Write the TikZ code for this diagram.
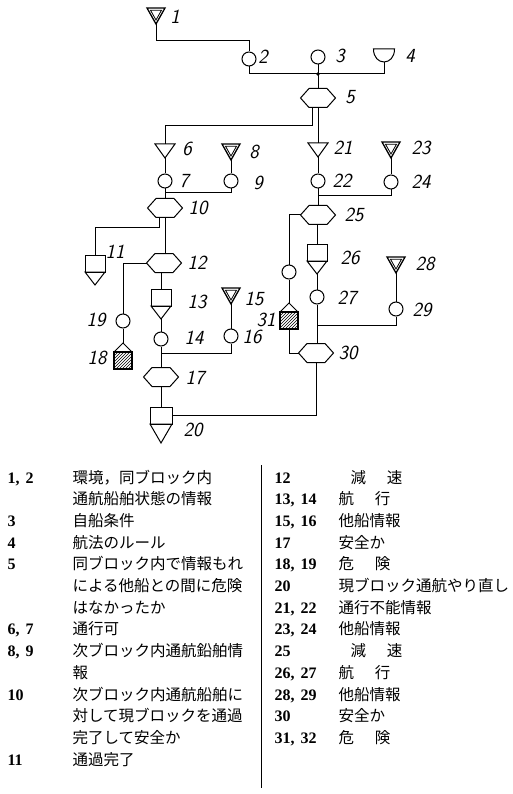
\documentclass[tikz,border=0pt]{standalone}
\usepackage{fontspec}
\newfontfamily\cjk{Noto Sans CJK JP}
\newfontfamily\numfont{Liberation Serif}
\usetikzlibrary{patterns,calc}
\tikzset{
  ln/.style={line width=1pt},
  circ/.style={circle,draw,line width=1pt,minimum size=14pt,inner sep=0pt},
  lab/.style={font=\sffamily\itshape\fontsize{20}{20}\selectfont,inner sep=0pt},
  num/.style={font=\numfont\bfseries\fontsize{16}{16}\selectfont,inner sep=0pt,anchor=base west},
  txt/.style={font=\cjk\fontsize{15.5}{15.5}\selectfont,inner sep=0pt,anchor=base west},
  ant/.pic={
    \draw[line width=1.3pt] (-9,-8) -- (9,-8) -- (0,8) -- cycle;
    \draw[line width=0.8pt] (-5.5,-5.8) -- (5.5,-5.8) -- (0,4) -- cycle;
    \coordinate (-top) at (0,-8); \coordinate (-bot) at (0,8);},
  tri/.pic={
    \draw[line width=1pt] (-10,-7) -- (10,-7) -- (0,7) -- cycle;
    \coordinate (-top) at (0,-7); \coordinate (-bot) at (0,7);},
  bowl/.pic={
    \draw[line width=1pt] (-10.5,-6.5) -- (10.5,-6.5) .. controls (10.5,10.8) and (-10.5,10.8) .. cycle;
    \coordinate (-bot) at (0,6.5);},
  hex/.pic={
    \draw[line width=1pt] (-17.5,0) -- (-9,-9.5) -- (9,-9.5) -- (17.5,0) -- (9,9.5) -- (-9,9.5) -- cycle;
    \coordinate (-n) at (0,-9.5); \coordinate (-s) at (0,9.5);
    \coordinate (-w) at (-17.5,0); \coordinate (-e) at (17.5,0);},
  sqtri/.pic={
    \draw[line width=1pt] (-10,0) rectangle (10,17);
    \draw[line width=1pt] (-10,17) -- (10,17) -- (0,30) -- cycle;
    \coordinate (-top) at (0,0); \coordinate (-bot) at (0,30);
    \coordinate (-east) at (10,8.5);},
  bigsqtri/.pic={
    \draw[line width=1pt] (-11,0) rectangle (11,17);
    \draw[line width=1pt] (-11,17) -- (11,17) -- (0,36) -- cycle;
    \coordinate (-top) at (0,0); \coordinate (-bot) at (0,36);
    \coordinate (-east) at (11,8.5);},
  danger/.pic={
    \draw[line width=1pt] (-9,9) -- (0,0) -- (9,9);
    \draw[line width=1.4pt,pattern=north east lines] (-9,9) rectangle (9,26);
    \coordinate (-top) at (0,0); \coordinate (-bot) at (0,26);},
}
\begin{document}
\begin{tikzpicture}[x=1pt,y=-1pt,line width=1pt]
\useasboundingbox[fill=white] (0,0) rectangle (512,794);

% ---------- symbols ----------
\pic (a1) at (156,16) {ant};
\node[circ] (c2) at (249,59) {};
\node[circ] (c3) at (318,57) {};
\pic (b4) at (384,55.5) {bowl};
\coordinate (J) at (318,74);
\pic (h5) at (318,98) {hex};

\pic (t6) at (165,151) {tri};
\pic (a8) at (231,152) {ant};
\pic (t21) at (318,150) {tri};
\pic (a23) at (391,150) {ant};

\node[circ] (c7) at (165,181) {};
\node[circ] (c9) at (231,181) {};
\coordinate (j10) at (165,193);
\pic (h10) at (165,208) {hex};
\pic (s11) at (95,255) {sqtri};
\pic (h12) at (164,263) {hex};
\node[circ] (c19) at (123,321) {};
\pic (d18) at (123,343) {danger};
\pic (s13) at (161,289) {sqtri};
\node[circ] (c14) at (161,339) {};
\pic (a15) at (231,296) {ant};
\node[circ] (c16) at (231,336) {};
\coordinate (j17) at (161,353);
\pic (h17) at (161,377) {hex};
\pic (s20) at (161,407) {bigsqtri};

\node[circ] (c22) at (318,181) {};
\node[circ] (c24) at (391,182) {};
\coordinate (j25) at (318,196);
\pic (h25) at (318,215) {hex};
\node[circ] (c32) at (289,272) {};
\pic (d31) at (289,303) {danger};
\pic (s26) at (317,244) {sqtri};
\node[circ] (c27) at (317,297) {};
\pic (a28) at (396,265) {ant};
\node[circ] (c29) at (396,309) {};
\coordinate (j30) at (317,325);
\pic (h30) at (316,353) {hex};

% ---------- connectors ----------
\draw (a1-bot) -- ++(0,17) -| (c2.north);
\draw (c2.south) |- (J);
\draw (c3.south) -- (J);
\draw (b4-bot) |- (J);
\fill (J) circle (1.8);
\draw (J) -- (h5-n);
\draw ($(h5-s)+(-6,0)$) -- ++(0,18.5) -| (t6-top);
\draw (h5-s) -- (t21-top);
\draw (t6-bot) -- (c7.north);
\draw (a8-bot) -- (c9.north);
\draw (c7.south) -- (h10-n);
\draw (c9.south) |- (j10);
\draw ($(h10-s)+(-6,0)$) -- ++(0,10.5) -| (s11-top);
\draw (h10-s) -- (h10-s |- h12-n);
\draw (h12-w) -| (c19.north);
\draw (c19.south) -- (d18-top);
\draw (s13-top |- h12-s) -- (s13-top);
\draw (s13-bot) -- (c14.north);
\draw (a15-bot) -- (c16.north);
\draw (c16.south) |- (j17);
\draw (c14.south) -- (h17-n);
\draw (h17-s) -- (s20-top);
\draw (s20-east) -| (h30-s);

\draw (t21-bot) -- (c22.north);
\draw (a23-bot) -- (c24.north);
\draw (c24.south) |- (j25);
\draw (c22.south) -- (h25-n);
\draw (h25-w) -| (c32.north);
\draw (c32.south) -- (d31-top);
\draw (d31-bot) |- (h30-w);
\draw (s26-top |- h25-s) -- (s26-top);
\draw (s26-bot) -- (c27.north);
\draw (c27.south) -- (c27.south |- h30-n);
\draw (a28-bot) -- (c29.north);
\draw (c29.south) |- (j30);

% ---------- diagram labels ----------
\node[lab] (l1) at (175,17) {1};
\node[lab] (l2) at (263,57) {2};
\node[lab] (l3) at (340,56) {3};
\node[lab] (l4) at (410,56) {4};
\node[lab] (l5) at (350,97) {5};
\node[lab] (l6) at (187,149) {6};
\node[lab] (l8) at (254,152) {8};
\node[lab] (l21) at (343,148) {21};
\node[lab] (l23) at (421,148) {23};
\node[lab] (l7) at (184,181) {7};
\node[lab] (l9) at (258,183) {9};
\node[lab] (l22) at (342,181) {22};
\node[lab] (l24) at (421,182) {24};
\node[lab] (l10) at (198,208) {10};
\node[lab] (l25) at (354,215) {25};
\node[lab] (l11) at (115,252) {11};
\node[lab] (l12) at (197,263) {12};
\node[lab] (l26) at (350,258) {26};
\node[lab] (l28) at (425,264) {28};
\node[lab] (l13) at (197,302) {13};
\node[lab] (l15) at (254,299) {15};
\node[lab] (l27) at (347,298) {27};
\node[lab] (l29) at (422,310) {29};
\node[lab] (l19) at (96,320) {19};
\node[lab] (l31) at (266,320) {31};
\node[lab] (l14) at (194,338) {14};
\node[lab] (l16) at (252,337) {16};
\node[lab] (l18) at (97,358) {18};
\node[lab] (l30) at (348,353) {30};
\node[lab] (l17) at (195,378) {17};
\node[lab] (l20) at (193,430) {20};

% ---------- legend ----------
\draw[line width=0.9pt] (261,465) -- (261,788);
% left column
\node[num] (n1) at (7,483) {1,\hspace{6pt}2};
\node[txt] (x1) at (72,483) {環境，同ブロック内};
\node[txt] (x1b) at (72,504.7) {通航船舶状態の情報};
\node[num] (n3) at (7,526.4) {3};
\node[txt] (x3) at (72,526.4) {自船条件};
\node[num] (n4) at (7,548.1) {4};
\node[txt] (x4) at (72,548.1) {航法のルール};
\node[num] (n5) at (7,569.8) {5};
\node[txt] (x5) at (72,569.8) {同ブロック内で情報もれ};
\node[txt] (x5b) at (72,591.5) {による他船との間に危険};
\node[txt] (x5c) at (72,613.2) {はなかったか};
\node[num] (n6) at (7,634.9) {6,\hspace{6pt}7};
\node[txt] (x6) at (72,634.9) {通行可};
\node[num] (n8) at (7,656.6) {8,\hspace{6pt}9};
\node[txt] (x8) at (72,656.6) {次ブロック内通航鉛舶情};
\node[txt] (x8b) at (72,678.3) {報};
\node[num] (n10) at (7,700) {10};
\node[txt] (x10) at (72,700) {次ブロック内通航船舶に};
\node[txt] (x10b) at (72,721.7) {対して現ブロックを通過};
\node[txt] (x10c) at (72,743.4) {完了して安全か};
\node[num] (n11) at (7,765.1) {11};
\node[txt] (x11) at (72,765.1) {通過完了};
% right column
\node[num] (n12) at (274,483) {12};
\node[txt] (x12) at (350,483) {減\hspace{21pt}速};
\node[num] (n13) at (274,504.7) {13,\hspace{6pt}14};
\node[txt] (x13) at (338,504.7) {航\hspace{21pt}行};
\node[num] (n15) at (274,526.4) {15,\hspace{6pt}16};
\node[txt] (x15) at (338,526.4) {他船情報};
\node[num] (n17) at (274,548.1) {17};
\node[txt] (x17) at (338,548.1) {安全か};
\node[num] (n18) at (274,569.8) {18,\hspace{6pt}19};
\node[txt] (x18) at (338,569.8) {危\hspace{21pt}険};
\node[num] (n20) at (274,591.5) {20};
\node[txt] (x20) at (338,591.5) {現ブロック通航やり直し};
\node[num] (n21) at (274,613.2) {21,\hspace{6pt}22};
\node[txt] (x21) at (338,613.2) {通行不能情報};
\node[num] (n23) at (274,634.9) {23,\hspace{6pt}24};
\node[txt] (x23) at (338,634.9) {他船情報};
\node[num] (n25) at (274,656.6) {25};
\node[txt] (x25) at (350,656.6) {減\hspace{21pt}速};
\node[num] (n26) at (274,678.3) {26,\hspace{6pt}27};
\node[txt] (x26) at (338,678.3) {航\hspace{21pt}行};
\node[num] (n28) at (274,700) {28,\hspace{6pt}29};
\node[txt] (x28) at (338,700) {他船情報};
\node[num] (n30) at (274,721.7) {30};
\node[txt] (x30) at (338,721.7) {安全か};
\node[num] (n31) at (274,743.4) {31,\hspace{6pt}32};
\node[txt] (x31) at (338,743.4) {危\hspace{21pt}険};
\end{tikzpicture}
\end{document}
